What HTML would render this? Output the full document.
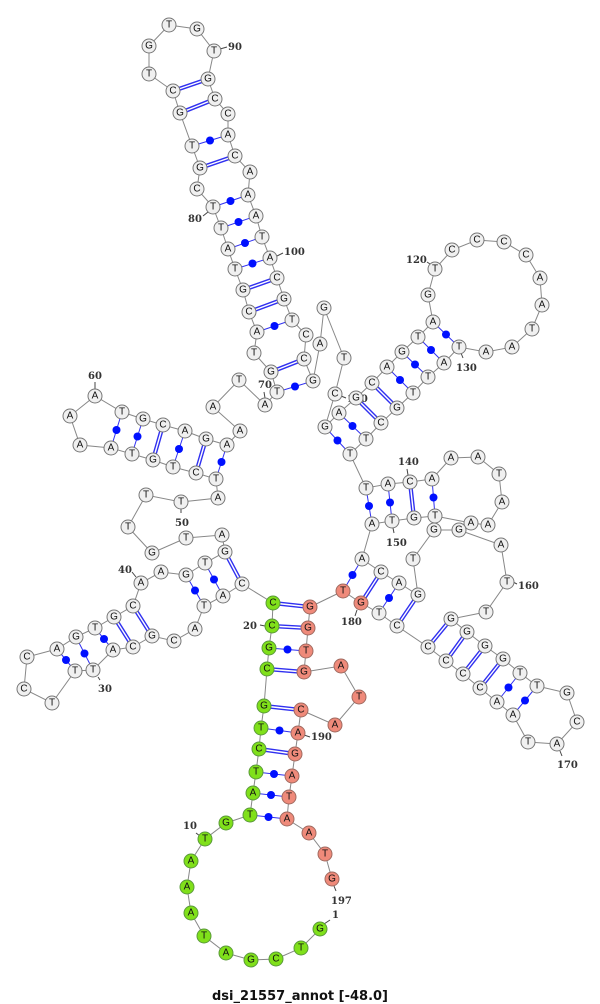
<!DOCTYPE html>
<html><head><meta charset="utf-8"><style>
body{margin:0;background:#fff;}
svg{display:block;}
.n{fill:#f0f0f0;stroke:#777;stroke-width:1}
.g{fill:#80e01a;stroke:#5a9a3a;stroke-width:1}
.r{fill:#ef8a7a;stroke:#a06a60;stroke-width:1}
text.l{font-family:"Liberation Sans",sans-serif;font-size:10px;text-anchor:middle;dominant-baseline:central;fill:#111}
text.num{font-family:"DejaVu Serif","Liberation Serif",serif;font-size:10px;font-weight:bold;fill:#333}
.d1{stroke:#3030f0;stroke-width:4.2}
.d2{stroke:#fff;stroke-width:1.4}
.s{stroke:#3030f0;stroke-width:1}
.dot{fill:#0010ff}
.t{stroke:#444;stroke-width:1}
</style></head><body>
<svg width="600" height="1004" viewBox="0 0 600 1004" xmlns="http://www.w3.org/2000/svg">
<polyline fill="none" stroke="#888" stroke-width="1" points="320,929 301,948 276,959 251,960 226,953 204,936 191,913 187,887 191,861 205,839 226,823 250,815 253,793 256,772 259,749 261,728 264,706 267,669 269,648 272,626 273,603 242,584 223,596 204,606 195,629 174,641 152,636 133,647 113,650 93,670 75,671 52,703 24,689 27,657 57,649 76,637 95,628 114,617 133,606 141,583 161,572 186,575 205,563 225,552 222,535 186,538 152,553 128,527 146,495 181,502 218,498 216,479 196,473 173,467 153,460 132,454 111,448 80,445 70,416 95,396 122,412 143,419 163,425 185,431 206,439 227,445 240,431 213,407 239,380 265,405 277,392 271,372 254,353 257,332 249,312 243,290 235,269 228,249 221,228 213,207 197,189 200,168 192,146 180,113 173,91 149,74 149,46 169,25 197,29 214,51 208,79 215,99 228,114 228,135 235,156 250,172 248,195 256,216 262,237 270,258 277,278 284,299 292,320 306,335 304,359 313,381 320,344 324,308 344,358 335,394 325,427 339,413 356,398 372,383 387,367 402,352 418,337 433,322 428,295 435,269 452,250 477,240 504,242 526,255 540,278 542,305 532,329 512,347 486,352 459,347 444,363 428,377 413,393 397,408 381,423 366,439 350,454 366,488 388,484 410,482 432,479 451,458 478,457 499,474 502,502 488,525 471,523 435,516 414,518 392,521 372,524 362,559 381,572 399,583 418,595 413,559 434,530 459,530 501,545 507,582 486,612 451,619 467,632 485,646 503,659 520,673 537,686 567,693 577,722 557,744 528,742 513,715 497,702 480,688 463,674 446,661 428,647 397,626 379,613 361,603 343,591 310,607 308,628 306,651 304,672 341,666 359,697 335,725 301,710 298,733 295,754 292,776 289,797 287,819 309,833 325,854 332,879"/>
<!-- double pairs -->
<g class="d1">
<line x1="242" y1="584" x2="225" y2="552"/><line x1="133" y1="606" x2="152" y2="636"/><line x1="114" y1="617" x2="133" y2="647"/>
<line x1="163" y1="425" x2="153" y2="460"/><line x1="206" y1="439" x2="196" y2="473"/>
<line x1="271" y1="372" x2="304" y2="359"/><line x1="249" y1="312" x2="284" y2="299"/><line x1="243" y1="290" x2="277" y2="278"/>
<line x1="200" y1="168" x2="235" y2="156"/><line x1="180" y1="113" x2="215" y2="99"/><line x1="173" y1="91" x2="208" y2="79"/>
<line x1="356" y1="398" x2="381" y2="423"/><line x1="372" y1="383" x2="397" y2="408"/>
<line x1="410" y1="482" x2="414" y2="518"/><line x1="381" y1="572" x2="361" y2="603"/><line x1="418" y1="595" x2="397" y2="626"/>
<line x1="451" y1="619" x2="428" y2="647"/><line x1="467" y1="632" x2="446" y2="661"/><line x1="485" y1="646" x2="463" y2="674"/><line x1="503" y1="659" x2="480" y2="688"/>
<line x1="273" y1="603" x2="310" y2="607"/><line x1="272" y1="626" x2="308" y2="628"/><line x1="267" y1="669" x2="304" y2="672"/><line x1="264" y1="706" x2="301" y2="710"/><line x1="259" y1="749" x2="295" y2="754"/>
</g>
<g class="d2">
<line x1="242" y1="584" x2="225" y2="552"/><line x1="133" y1="606" x2="152" y2="636"/><line x1="114" y1="617" x2="133" y2="647"/>
<line x1="163" y1="425" x2="153" y2="460"/><line x1="206" y1="439" x2="196" y2="473"/>
<line x1="271" y1="372" x2="304" y2="359"/><line x1="249" y1="312" x2="284" y2="299"/><line x1="243" y1="290" x2="277" y2="278"/>
<line x1="200" y1="168" x2="235" y2="156"/><line x1="180" y1="113" x2="215" y2="99"/><line x1="173" y1="91" x2="208" y2="79"/>
<line x1="356" y1="398" x2="381" y2="423"/><line x1="372" y1="383" x2="397" y2="408"/>
<line x1="410" y1="482" x2="414" y2="518"/><line x1="381" y1="572" x2="361" y2="603"/><line x1="418" y1="595" x2="397" y2="626"/>
<line x1="451" y1="619" x2="428" y2="647"/><line x1="467" y1="632" x2="446" y2="661"/><line x1="485" y1="646" x2="463" y2="674"/><line x1="503" y1="659" x2="480" y2="688"/>
<line x1="273" y1="603" x2="310" y2="607"/><line x1="272" y1="626" x2="308" y2="628"/><line x1="267" y1="669" x2="304" y2="672"/><line x1="264" y1="706" x2="301" y2="710"/><line x1="259" y1="749" x2="295" y2="754"/>
</g>
<!-- single pairs -->
<g class="s">
<line x1="204" y1="606" x2="186" y2="575"/><line x1="223" y1="596" x2="205" y2="563"/><line x1="95" y1="628" x2="113" y2="650"/><line x1="76" y1="637" x2="93" y2="670"/><line x1="57" y1="649" x2="75" y2="671"/>
<line x1="122" y1="412" x2="111" y2="448"/><line x1="143" y1="419" x2="132" y2="454"/><line x1="185" y1="431" x2="173" y2="467"/><line x1="227" y1="445" x2="216" y2="479"/>
<line x1="277" y1="392" x2="313" y2="381"/><line x1="257" y1="332" x2="292" y2="320"/><line x1="235" y1="269" x2="270" y2="258"/><line x1="228" y1="249" x2="262" y2="237"/><line x1="221" y1="228" x2="256" y2="216"/><line x1="213" y1="207" x2="248" y2="195"/><line x1="192" y1="146" x2="228" y2="135"/>
<line x1="325" y1="427" x2="350" y2="454"/><line x1="339" y1="413" x2="366" y2="439"/><line x1="387" y1="367" x2="413" y2="393"/><line x1="402" y1="352" x2="428" y2="377"/><line x1="418" y1="337" x2="444" y2="363"/><line x1="433" y1="322" x2="459" y2="347"/>
<line x1="366" y1="488" x2="372" y2="524"/><line x1="388" y1="484" x2="392" y2="521"/><line x1="432" y1="479" x2="435" y2="516"/>
<line x1="362" y1="559" x2="343" y2="591"/><line x1="399" y1="583" x2="379" y2="613"/><line x1="520" y1="673" x2="497" y2="702"/><line x1="537" y1="686" x2="513" y2="715"/>
<line x1="269" y1="648" x2="306" y2="651"/><line x1="261" y1="728" x2="298" y2="733"/><line x1="256" y1="772" x2="292" y2="776"/><line x1="253" y1="793" x2="289" y2="797"/><line x1="250" y1="815" x2="287" y2="819"/>
</g>
<g class="dot">
<circle cx="195" cy="590.5" r="4"/><circle cx="214" cy="579.5" r="4"/><circle cx="104" cy="639" r="4"/><circle cx="84.5" cy="653.5" r="4"/><circle cx="66" cy="660" r="4"/>
<circle cx="116.5" cy="430" r="4"/><circle cx="137.5" cy="436.5" r="4"/><circle cx="179" cy="449" r="4"/><circle cx="221.5" cy="462" r="4"/>
<circle cx="295" cy="386.5" r="4"/><circle cx="274.5" cy="326" r="4"/><circle cx="252.5" cy="263.5" r="4"/><circle cx="245" cy="243" r="4"/><circle cx="238.5" cy="222" r="4"/><circle cx="230.5" cy="201" r="4"/><circle cx="210" cy="140.5" r="4"/>
<circle cx="337.5" cy="440.5" r="4"/><circle cx="352.5" cy="426" r="4"/><circle cx="400" cy="380" r="4"/><circle cx="415" cy="364.5" r="4"/><circle cx="431" cy="350" r="4"/><circle cx="446" cy="334.5" r="4"/>
<circle cx="369" cy="506" r="4"/><circle cx="390" cy="502.5" r="4"/><circle cx="433.5" cy="497.5" r="4"/>
<circle cx="352.5" cy="575" r="4"/><circle cx="389" cy="598" r="4"/><circle cx="508.5" cy="687.5" r="4"/><circle cx="525" cy="700.5" r="4"/>
<circle cx="287.5" cy="649.5" r="4"/><circle cx="279.5" cy="730.5" r="4"/><circle cx="274" cy="774" r="4"/><circle cx="271" cy="795" r="4"/><circle cx="268.5" cy="817" r="4"/>
</g>
<!-- number ticks -->
<g class="t">
<line x1="220" y1="49" x2="227" y2="47"/><line x1="277" y1="256" x2="283" y2="253"/><line x1="427" y1="262" x2="433" y2="266"/><line x1="461" y1="353" x2="463" y2="358"/>
<line x1="95" y1="382" x2="95" y2="389"/><line x1="264" y1="392" x2="265" y2="398"/><line x1="203" y1="216" x2="208" y2="212"/><line x1="181" y1="508" x2="181" y2="513"/>
<line x1="132" y1="572" x2="136" y2="577"/><line x1="98" y1="677" x2="100" y2="680"/><line x1="260" y1="625" x2="265" y2="626"/><line x1="304" y1="735" x2="310" y2="737"/>
<line x1="355" y1="616" x2="357" y2="610"/><line x1="393" y1="528" x2="394" y2="533"/><line x1="407" y1="469" x2="408" y2="475"/><line x1="513" y1="582" x2="517" y2="584"/>
<line x1="560" y1="751" x2="562" y2="756"/><line x1="334" y1="886" x2="336" y2="891"/><line x1="324" y1="924" x2="330" y2="920"/><line x1="196" y1="833" x2="200" y2="836"/><line x1="341" y1="396" x2="346" y2="398"/>
</g>
<g>
<text class="num" x="228" y="50">90</text><text class="num" x="284" y="255">100</text><text class="num" x="406" y="263">120</text><text class="num" x="456" y="371">130</text>
<text class="num" x="88" y="379">60</text><text class="num" x="258" y="388">70</text><text class="num" x="188" y="222">80</text><text class="num" x="175" y="526">50</text>
<text class="num" x="118" y="573">40</text><text class="num" x="98" y="692">30</text><text class="num" x="243" y="629">20</text><text class="num" x="311" y="740">190</text>
<text class="num" x="341" y="625">180</text><text class="num" x="386" y="546">150</text><text class="num" x="398" y="465">140</text><text class="num" x="518" y="589">160</text>
<text class="num" x="557" y="768">170</text><text class="num" x="331" y="904">197</text><text class="num" x="332" y="918">1</text><text class="num" x="183" y="829">10</text><text class="num" x="347" y="402">110</text>
</g>
<!-- nodes -->
<g>
<circle class="g" cx="320" cy="929" r="7"/><circle class="g" cx="301" cy="948" r="7"/><circle class="g" cx="276" cy="959" r="7"/><circle class="g" cx="251" cy="960" r="7"/><circle class="g" cx="226" cy="953" r="7"/><circle class="g" cx="204" cy="936" r="7"/><circle class="g" cx="191" cy="913" r="7"/><circle class="g" cx="187" cy="887" r="7"/><circle class="g" cx="191" cy="861" r="7"/><circle class="g" cx="205" cy="839" r="7"/><circle class="g" cx="226" cy="823" r="7"/><circle class="g" cx="250" cy="815" r="7"/><circle class="g" cx="253" cy="793" r="7"/><circle class="g" cx="256" cy="772" r="7"/><circle class="g" cx="259" cy="749" r="7"/><circle class="g" cx="261" cy="728" r="7"/><circle class="g" cx="264" cy="706" r="7"/><circle class="g" cx="267" cy="669" r="7"/><circle class="g" cx="269" cy="648" r="7"/><circle class="g" cx="272" cy="626" r="7"/><circle class="g" cx="273" cy="603" r="7"/>
<circle class="n" cx="242" cy="584" r="7"/><circle class="n" cx="223" cy="596" r="7"/><circle class="n" cx="204" cy="606" r="7"/><circle class="n" cx="195" cy="629" r="7"/><circle class="n" cx="174" cy="641" r="7"/><circle class="n" cx="152" cy="636" r="7"/><circle class="n" cx="133" cy="647" r="7"/><circle class="n" cx="113" cy="650" r="7"/><circle class="n" cx="93" cy="670" r="7"/><circle class="n" cx="75" cy="671" r="7"/><circle class="n" cx="52" cy="703" r="7"/><circle class="n" cx="24" cy="689" r="7"/><circle class="n" cx="27" cy="657" r="7"/><circle class="n" cx="57" cy="649" r="7"/><circle class="n" cx="76" cy="637" r="7"/><circle class="n" cx="95" cy="628" r="7"/><circle class="n" cx="114" cy="617" r="7"/><circle class="n" cx="133" cy="606" r="7"/><circle class="n" cx="141" cy="583" r="7"/><circle class="n" cx="161" cy="572" r="7"/><circle class="n" cx="186" cy="575" r="7"/><circle class="n" cx="205" cy="563" r="7"/><circle class="n" cx="225" cy="552" r="7"/><circle class="n" cx="222" cy="535" r="7"/><circle class="n" cx="186" cy="538" r="7"/><circle class="n" cx="152" cy="553" r="7"/><circle class="n" cx="128" cy="527" r="7"/><circle class="n" cx="146" cy="495" r="7"/><circle class="n" cx="181" cy="502" r="7"/><circle class="n" cx="218" cy="498" r="7"/><circle class="n" cx="216" cy="479" r="7"/><circle class="n" cx="196" cy="473" r="7"/><circle class="n" cx="173" cy="467" r="7"/><circle class="n" cx="153" cy="460" r="7"/><circle class="n" cx="132" cy="454" r="7"/><circle class="n" cx="111" cy="448" r="7"/><circle class="n" cx="80" cy="445" r="7"/><circle class="n" cx="70" cy="416" r="7"/><circle class="n" cx="95" cy="396" r="7"/><circle class="n" cx="122" cy="412" r="7"/><circle class="n" cx="143" cy="419" r="7"/><circle class="n" cx="163" cy="425" r="7"/><circle class="n" cx="185" cy="431" r="7"/><circle class="n" cx="206" cy="439" r="7"/><circle class="n" cx="227" cy="445" r="7"/><circle class="n" cx="240" cy="431" r="7"/><circle class="n" cx="213" cy="407" r="7"/><circle class="n" cx="239" cy="380" r="7"/><circle class="n" cx="265" cy="405" r="7"/><circle class="n" cx="277" cy="392" r="7"/><circle class="n" cx="271" cy="372" r="7"/><circle class="n" cx="254" cy="353" r="7"/><circle class="n" cx="257" cy="332" r="7"/><circle class="n" cx="249" cy="312" r="7"/><circle class="n" cx="243" cy="290" r="7"/><circle class="n" cx="235" cy="269" r="7"/><circle class="n" cx="228" cy="249" r="7"/><circle class="n" cx="221" cy="228" r="7"/><circle class="n" cx="213" cy="207" r="7"/><circle class="n" cx="197" cy="189" r="7"/><circle class="n" cx="200" cy="168" r="7"/><circle class="n" cx="192" cy="146" r="7"/><circle class="n" cx="180" cy="113" r="7"/><circle class="n" cx="173" cy="91" r="7"/><circle class="n" cx="149" cy="74" r="7"/><circle class="n" cx="149" cy="46" r="7"/><circle class="n" cx="169" cy="25" r="7"/><circle class="n" cx="197" cy="29" r="7"/><circle class="n" cx="214" cy="51" r="7"/><circle class="n" cx="208" cy="79" r="7"/><circle class="n" cx="215" cy="99" r="7"/><circle class="n" cx="228" cy="114" r="7"/><circle class="n" cx="228" cy="135" r="7"/><circle class="n" cx="235" cy="156" r="7"/><circle class="n" cx="250" cy="172" r="7"/><circle class="n" cx="248" cy="195" r="7"/><circle class="n" cx="256" cy="216" r="7"/><circle class="n" cx="262" cy="237" r="7"/><circle class="n" cx="270" cy="258" r="7"/><circle class="n" cx="277" cy="278" r="7"/><circle class="n" cx="284" cy="299" r="7"/><circle class="n" cx="292" cy="320" r="7"/><circle class="n" cx="306" cy="335" r="7"/><circle class="n" cx="304" cy="359" r="7"/><circle class="n" cx="313" cy="381" r="7"/><circle class="n" cx="320" cy="344" r="7"/><circle class="n" cx="324" cy="308" r="7"/><circle class="n" cx="344" cy="358" r="7"/><circle class="n" cx="335" cy="394" r="7"/><circle class="n" cx="325" cy="427" r="7"/><circle class="n" cx="339" cy="413" r="7"/><circle class="n" cx="356" cy="398" r="7"/><circle class="n" cx="372" cy="383" r="7"/><circle class="n" cx="387" cy="367" r="7"/><circle class="n" cx="402" cy="352" r="7"/><circle class="n" cx="418" cy="337" r="7"/><circle class="n" cx="433" cy="322" r="7"/><circle class="n" cx="428" cy="295" r="7"/><circle class="n" cx="435" cy="269" r="7"/><circle class="n" cx="452" cy="250" r="7"/><circle class="n" cx="477" cy="240" r="7"/><circle class="n" cx="504" cy="242" r="7"/><circle class="n" cx="526" cy="255" r="7"/><circle class="n" cx="540" cy="278" r="7"/><circle class="n" cx="542" cy="305" r="7"/><circle class="n" cx="532" cy="329" r="7"/><circle class="n" cx="512" cy="347" r="7"/><circle class="n" cx="486" cy="352" r="7"/><circle class="n" cx="459" cy="347" r="7"/><circle class="n" cx="444" cy="363" r="7"/><circle class="n" cx="428" cy="377" r="7"/><circle class="n" cx="413" cy="393" r="7"/><circle class="n" cx="397" cy="408" r="7"/><circle class="n" cx="381" cy="423" r="7"/><circle class="n" cx="366" cy="439" r="7"/><circle class="n" cx="350" cy="454" r="7"/><circle class="n" cx="366" cy="488" r="7"/><circle class="n" cx="388" cy="484" r="7"/><circle class="n" cx="410" cy="482" r="7"/><circle class="n" cx="432" cy="479" r="7"/><circle class="n" cx="451" cy="458" r="7"/><circle class="n" cx="478" cy="457" r="7"/><circle class="n" cx="499" cy="474" r="7"/><circle class="n" cx="502" cy="502" r="7"/><circle class="n" cx="488" cy="525" r="7"/><circle class="n" cx="471" cy="523" r="7"/><circle class="n" cx="435" cy="516" r="7"/><circle class="n" cx="414" cy="518" r="7"/><circle class="n" cx="392" cy="521" r="7"/><circle class="n" cx="372" cy="524" r="7"/><circle class="n" cx="362" cy="559" r="7"/><circle class="n" cx="381" cy="572" r="7"/><circle class="n" cx="399" cy="583" r="7"/><circle class="n" cx="418" cy="595" r="7"/><circle class="n" cx="413" cy="559" r="7"/><circle class="n" cx="434" cy="530" r="7"/><circle class="n" cx="459" cy="530" r="7"/><circle class="n" cx="501" cy="545" r="7"/><circle class="n" cx="507" cy="582" r="7"/><circle class="n" cx="486" cy="612" r="7"/><circle class="n" cx="451" cy="619" r="7"/><circle class="n" cx="467" cy="632" r="7"/><circle class="n" cx="485" cy="646" r="7"/><circle class="n" cx="503" cy="659" r="7"/><circle class="n" cx="520" cy="673" r="7"/><circle class="n" cx="537" cy="686" r="7"/><circle class="n" cx="567" cy="693" r="7"/><circle class="n" cx="577" cy="722" r="7"/><circle class="n" cx="557" cy="744" r="7"/><circle class="n" cx="528" cy="742" r="7"/><circle class="n" cx="513" cy="715" r="7"/><circle class="n" cx="497" cy="702" r="7"/><circle class="n" cx="480" cy="688" r="7"/><circle class="n" cx="463" cy="674" r="7"/><circle class="n" cx="446" cy="661" r="7"/><circle class="n" cx="428" cy="647" r="7"/><circle class="n" cx="397" cy="626" r="7"/><circle class="n" cx="379" cy="613" r="7"/>
<circle class="r" cx="361" cy="603" r="7"/><circle class="r" cx="343" cy="591" r="7"/><circle class="r" cx="310" cy="607" r="7"/><circle class="r" cx="308" cy="628" r="7"/><circle class="r" cx="306" cy="651" r="7"/><circle class="r" cx="304" cy="672" r="7"/><circle class="r" cx="341" cy="666" r="7"/><circle class="r" cx="359" cy="697" r="7"/><circle class="r" cx="335" cy="725" r="7"/><circle class="r" cx="301" cy="710" r="7"/><circle class="r" cx="298" cy="733" r="7"/><circle class="r" cx="295" cy="754" r="7"/><circle class="r" cx="292" cy="776" r="7"/><circle class="r" cx="289" cy="797" r="7"/><circle class="r" cx="287" cy="819" r="7"/><circle class="r" cx="309" cy="833" r="7"/><circle class="r" cx="325" cy="854" r="7"/><circle class="r" cx="332" cy="879" r="7"/>
</g>
<g>
<text class="l" x="320" y="929">G</text><text class="l" x="301" y="948">T</text><text class="l" x="276" y="959">C</text><text class="l" x="251" y="960">G</text><text class="l" x="226" y="953">A</text><text class="l" x="204" y="936">T</text><text class="l" x="191" y="913">A</text><text class="l" x="187" y="887">A</text><text class="l" x="191" y="861">A</text><text class="l" x="205" y="839">T</text><text class="l" x="226" y="823">G</text><text class="l" x="250" y="815">T</text><text class="l" x="253" y="793">A</text><text class="l" x="256" y="772">T</text><text class="l" x="259" y="749">C</text><text class="l" x="261" y="728">T</text><text class="l" x="264" y="706">G</text><text class="l" x="267" y="669">C</text><text class="l" x="269" y="648">G</text><text class="l" x="272" y="626">C</text><text class="l" x="273" y="603">C</text>
<text class="l" x="242" y="584">C</text><text class="l" x="223" y="596">A</text><text class="l" x="204" y="606">T</text><text class="l" x="195" y="629">A</text><text class="l" x="174" y="641">C</text><text class="l" x="152" y="636">G</text><text class="l" x="133" y="647">C</text><text class="l" x="113" y="650">A</text><text class="l" x="93" y="670">T</text><text class="l" x="75" y="671">T</text><text class="l" x="52" y="703">T</text><text class="l" x="24" y="689">C</text><text class="l" x="27" y="657">C</text><text class="l" x="57" y="649">A</text><text class="l" x="76" y="637">G</text><text class="l" x="95" y="628">T</text><text class="l" x="114" y="617">G</text><text class="l" x="133" y="606">C</text><text class="l" x="141" y="583">A</text><text class="l" x="161" y="572">A</text><text class="l" x="186" y="575">G</text><text class="l" x="205" y="563">T</text><text class="l" x="225" y="552">G</text><text class="l" x="222" y="535">A</text><text class="l" x="186" y="538">T</text><text class="l" x="152" y="553">G</text><text class="l" x="128" y="527">T</text><text class="l" x="146" y="495">T</text><text class="l" x="181" y="502">T</text><text class="l" x="218" y="498">A</text><text class="l" x="216" y="479">T</text><text class="l" x="196" y="473">C</text><text class="l" x="173" y="467">T</text><text class="l" x="153" y="460">G</text><text class="l" x="132" y="454">T</text><text class="l" x="111" y="448">A</text><text class="l" x="80" y="445">A</text><text class="l" x="70" y="416">A</text><text class="l" x="95" y="396">A</text><text class="l" x="122" y="412">T</text><text class="l" x="143" y="419">G</text><text class="l" x="163" y="425">C</text><text class="l" x="185" y="431">A</text><text class="l" x="206" y="439">G</text><text class="l" x="227" y="445">A</text><text class="l" x="240" y="431">A</text><text class="l" x="213" y="407">A</text><text class="l" x="239" y="380">T</text><text class="l" x="265" y="405">A</text><text class="l" x="277" y="392">T</text><text class="l" x="271" y="372">G</text><text class="l" x="254" y="353">T</text><text class="l" x="257" y="332">A</text><text class="l" x="249" y="312">C</text><text class="l" x="243" y="290">G</text><text class="l" x="235" y="269">T</text><text class="l" x="228" y="249">A</text><text class="l" x="221" y="228">T</text><text class="l" x="213" y="207">T</text><text class="l" x="197" y="189">C</text><text class="l" x="200" y="168">G</text><text class="l" x="192" y="146">T</text><text class="l" x="180" y="113">G</text><text class="l" x="173" y="91">C</text><text class="l" x="149" y="74">T</text><text class="l" x="149" y="46">G</text><text class="l" x="169" y="25">T</text><text class="l" x="197" y="29">G</text><text class="l" x="214" y="51">T</text><text class="l" x="208" y="79">G</text><text class="l" x="215" y="99">C</text><text class="l" x="228" y="114">C</text><text class="l" x="228" y="135">A</text><text class="l" x="235" y="156">C</text><text class="l" x="250" y="172">A</text><text class="l" x="248" y="195">A</text><text class="l" x="256" y="216">A</text><text class="l" x="262" y="237">T</text><text class="l" x="270" y="258">A</text><text class="l" x="277" y="278">C</text><text class="l" x="284" y="299">G</text><text class="l" x="292" y="320">T</text><text class="l" x="306" y="335">C</text><text class="l" x="304" y="359">C</text><text class="l" x="313" y="381">G</text><text class="l" x="320" y="344">A</text><text class="l" x="324" y="308">G</text><text class="l" x="344" y="358">T</text><text class="l" x="335" y="394">C</text><text class="l" x="325" y="427">G</text><text class="l" x="339" y="413">A</text><text class="l" x="356" y="398">G</text><text class="l" x="372" y="383">C</text><text class="l" x="387" y="367">A</text><text class="l" x="402" y="352">G</text><text class="l" x="418" y="337">T</text><text class="l" x="433" y="322">A</text><text class="l" x="428" y="295">G</text><text class="l" x="435" y="269">T</text><text class="l" x="452" y="250">C</text><text class="l" x="477" y="240">C</text><text class="l" x="504" y="242">C</text><text class="l" x="526" y="255">C</text><text class="l" x="540" y="278">A</text><text class="l" x="542" y="305">A</text><text class="l" x="532" y="329">T</text><text class="l" x="512" y="347">A</text><text class="l" x="486" y="352">A</text><text class="l" x="459" y="347">T</text><text class="l" x="444" y="363">A</text><text class="l" x="428" y="377">T</text><text class="l" x="413" y="393">T</text><text class="l" x="397" y="408">G</text><text class="l" x="381" y="423">C</text><text class="l" x="366" y="439">T</text><text class="l" x="350" y="454">T</text><text class="l" x="366" y="488">T</text><text class="l" x="388" y="484">A</text><text class="l" x="410" y="482">C</text><text class="l" x="432" y="479">A</text><text class="l" x="451" y="458">A</text><text class="l" x="478" y="457">A</text><text class="l" x="499" y="474">T</text><text class="l" x="502" y="502">A</text><text class="l" x="488" y="525">A</text><text class="l" x="471" y="523">A</text><text class="l" x="435" y="516">T</text><text class="l" x="414" y="518">G</text><text class="l" x="392" y="521">T</text><text class="l" x="372" y="524">A</text><text class="l" x="362" y="559">A</text><text class="l" x="381" y="572">C</text><text class="l" x="399" y="583">A</text><text class="l" x="418" y="595">G</text><text class="l" x="413" y="559">T</text><text class="l" x="434" y="530">G</text><text class="l" x="459" y="530">G</text><text class="l" x="501" y="545">A</text><text class="l" x="507" y="582">T</text><text class="l" x="486" y="612">T</text><text class="l" x="451" y="619">G</text><text class="l" x="467" y="632">G</text><text class="l" x="485" y="646">G</text><text class="l" x="503" y="659">G</text><text class="l" x="520" y="673">T</text><text class="l" x="537" y="686">T</text><text class="l" x="567" y="693">G</text><text class="l" x="577" y="722">C</text><text class="l" x="557" y="744">A</text><text class="l" x="528" y="742">T</text><text class="l" x="513" y="715">A</text><text class="l" x="497" y="702">A</text><text class="l" x="480" y="688">C</text><text class="l" x="463" y="674">C</text><text class="l" x="446" y="661">C</text><text class="l" x="428" y="647">C</text><text class="l" x="397" y="626">C</text><text class="l" x="379" y="613">T</text>
<text class="l" x="361" y="603">G</text><text class="l" x="343" y="591">T</text><text class="l" x="310" y="607">G</text><text class="l" x="308" y="628">G</text><text class="l" x="306" y="651">T</text><text class="l" x="304" y="672">G</text><text class="l" x="341" y="666">A</text><text class="l" x="359" y="697">T</text><text class="l" x="335" y="725">A</text><text class="l" x="301" y="710">C</text><text class="l" x="298" y="733">A</text><text class="l" x="295" y="754">G</text><text class="l" x="292" y="776">A</text><text class="l" x="289" y="797">T</text><text class="l" x="287" y="819">A</text><text class="l" x="309" y="833">A</text><text class="l" x="325" y="854">T</text><text class="l" x="332" y="879">G</text>
</g>
<text x="300" y="1000" text-anchor="middle" font-family="DejaVu Sans, Liberation Sans, sans-serif" font-size="13" font-weight="bold" fill="#111">dsi_21557_annot [-48.0]</text>
</svg>
</body></html>
